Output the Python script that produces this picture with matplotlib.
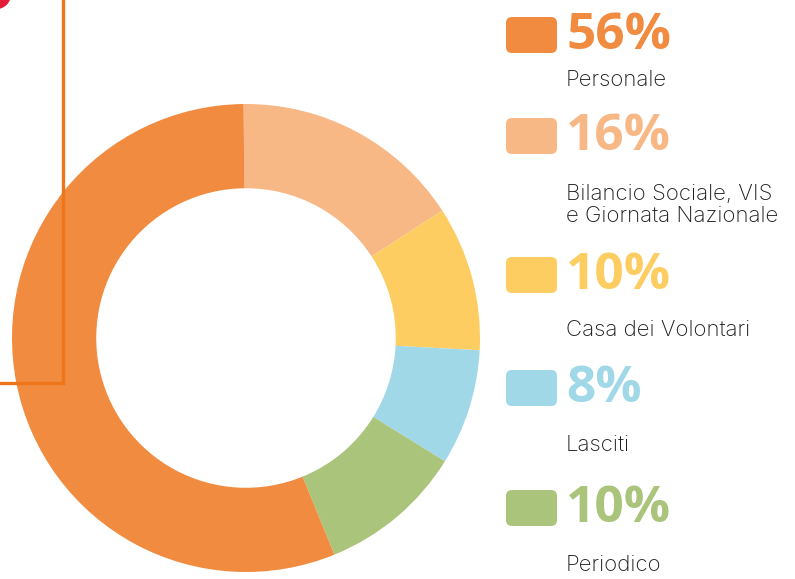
import matplotlib
matplotlib.use("Agg")
import matplotlib.pyplot as plt
from matplotlib.patches import FancyBboxPatch, Circle

# ripartizione delle spese
labels = ["Personale", "Bilancio Sociale, VIS\ne Giornata Nazionale",
          "Casa dei Volontari", "Lasciti", "Periodico"]
values = [56, 16, 10, 8, 10]
colors = ["#F08B3F", "#F7B885", "#FDCD62", "#A1D8E8", "#ABC47B"]

W, H = 795, 579
fig = plt.figure(figsize=(W / 100, H / 100), dpi=100)

# donut: centro (246, 338) px, raggio 234 px
cx, cy, r = 246, 338, 234
ax = fig.add_axes([(cx - r) / W, (H - cy - r) / H, 2 * r / W, 2 * r / H])
# Personale last so the other slices run clockwise from the top
order = [1, 2, 3, 4, 0]
ax.pie([values[i] for i in order], colors=[colors[i] for i in order],
       startangle=90.6, counterclock=False, radius=1,
       wedgeprops=dict(width=0.36, linewidth=0))
ax.set_xlim(-1, 1)
ax.set_ylim(-1, 1)
ax.set_aspect("equal")
ax.axis("off")

# overlay in pixel coordinates
ov = fig.add_axes([0, 0, 1, 1])
ov.set_xlim(0, W)
ov.set_ylim(H, 0)
ov.axis("off")
ov.patch.set_alpha(0)

ov.plot([63, 63, 0], [-5, 383, 383], color="#EE7519", lw=2.4,
        solid_joinstyle="miter")
ov.add_patch(Circle((-4, -6), 14.5, color="#E31B35", clip_on=False))

swatch_y = [35, 136, 275, 388, 508]
label_y = [80, 205, 330, 445, 565]
for i in range(len(values)):
    ov.add_patch(FancyBboxPatch((506 + 6, swatch_y[i] - 18 + 6), 51 - 12, 36 - 12,
                                boxstyle="round,pad=6", color=colors[i], lw=0))
    ov.text(566, swatch_y[i] + 1, f"{values[i]}%", color=colors[i],
            fontsize=37, fontweight="bold", family="Open Sans",
            ha="left", va="center")
    ov.text(566, label_y[i], labels[i], color="#1E1E1E", fontsize=16,
            fontweight="light", family="Inter", ha="left", va="center",
            linespacing=1.15)

fig.savefig("out.png", dpi=100)
